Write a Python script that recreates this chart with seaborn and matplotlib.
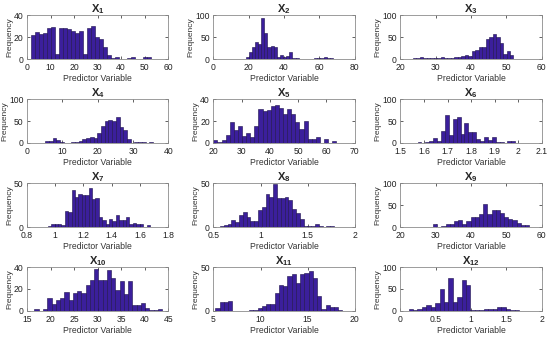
import matplotlib

matplotlib.use("Agg")
import matplotlib.pyplot as plt
import numpy as np
import pandas as pd
import seaborn as sns
from matplotlib.ticker import FormatStrFormatter


# bin counts, plus the data range each spans
X1_RANGE = (1.8, 52.6)
X1_COUNTS = [22, 25, 23, 24, 28, 29, 5, 28, 28, 27, 26, 24, 26, 5, 28,
             30, 20, 18, 11, 4, 1, 2, 0, 0, 1, 2, 0, 0, 2, 2]
X2_RANGE = (18.2, 71.2)
X2_COUNTS = [6, 17, 28, 40, 34, 93, 60, 27, 30, 28, 5, 10, 6, 8, 16,
             3, 2, 1, 0, 0, 0, 0, 2, 3, 3, 5, 3, 2, 1, 1]
X3_RANGE = (22.5, 52.0)
X3_COUNTS = [1, 3, 2, 5, 2, 2, 3, 2, 3, 5, 2, 2, 3, 5, 4,
             7, 10, 7, 18, 21, 28, 28, 46, 51, 58, 50, 37, 12, 18, 10]
X4_RANGE = (5.2, 36.7)
X4_COUNTS = [4, 4, 12, 6, 2, 0, 0, 3, 2, 4, 8, 12, 14, 12, 22,
             38, 50, 52, 51, 60, 36, 30, 8, 0, 2, 3, 2, 0, 2, 1]
X5_RANGE = (20.0, 63.5)
X5_COUNTS = [3, 1, 3, 7, 19, 12, 15, 6, 9, 5, 15, 31, 29, 30, 34,
             35, 32, 26, 31, 26, 19, 13, 20, 4, 4, 5, 0, 4, 0, 2]
X6_RANGE = (1.556, 2.054)
X6_COUNTS = [1, 2, 1, 3, 5, 12, 5, 28, 64, 18, 54, 60, 20, 45, 25,
             25, 8, 5, 14, 7, 14, 3, 3, 1, 4, 5, 1, 1, 1, 1]
X7_RANGE = (0.947, 1.67)
X7_COUNTS = [1, 3, 4, 4, 2, 18, 17, 42, 34, 38, 37, 36, 44, 32, 33,
             12, 8, 3, 9, 7, 14, 8, 8, 11, 3, 5, 4, 3, 0, 2]
X8_RANGE = (0.57, 1.78)
X8_COUNTS = [1, 2, 4, 8, 6, 14, 17, 12, 7, 7, 20, 23, 38, 34, 49,
             33, 33, 34, 31, 21, 16, 9, 1, 1, 1, 3, 1, 0, 1, 1]
X9_RANGE = (23.3, 58.8)
X9_COUNTS = [1, 1, 1, 0, 0, 6, 1, 2, 7, 8, 15, 16, 8, 14, 23,
             22, 30, 52, 30, 40, 40, 32, 22, 19, 16, 10, 4, 5, 1, 1]
X10_RANGE = (16.6, 43.7)
X10_COUNTS = [2, 0, 2, 12, 6, 10, 12, 17, 10, 16, 18, 16, 24, 28, 38,
              28, 28, 37, 30, 19, 27, 15, 27, 5, 5, 7, 3, 1, 1, 2]
X11_RANGE = (5.2, 18.7)
X11_COUNTS = [3, 10, 10, 11, 0, 0, 0, 0, 1, 1, 3, 6, 8, 8, 20,
              29, 28, 40, 42, 32, 42, 43, 46, 37, 17, 2, 7, 5, 5, 1]
X12_RANGE = (0.117, 1.99)
X12_COUNTS = [4, 2, 4, 8, 13, 10, 18, 50, 20, 75, 20, 32, 70, 58, 2,
              2, 3, 4, 4, 5, 9, 8, 5, 2, 2, 0, 1, 1, 0, 1]

PANELS = [
    ("1", X1_RANGE, X1_COUNTS),
    ("2", X2_RANGE, X2_COUNTS),
    ("3", X3_RANGE, X3_COUNTS),
    ("4", X4_RANGE, X4_COUNTS),
    ("5", X5_RANGE, X5_COUNTS),
    ("6", X6_RANGE, X6_COUNTS),
    ("7", X7_RANGE, X7_COUNTS),
    ("8", X8_RANGE, X8_COUNTS),
    ("9", X9_RANGE, X9_COUNTS),
    ("10", X10_RANGE, X10_COUNTS),
    ("11", X11_RANGE, X11_COUNTS),
    ("12", X12_RANGE, X12_COUNTS),
]

# axis limits / ticks per panel: (xmin, xmax, xstep, ymax, ystep)
AXES_SPEC = [
    (0, 60, 10, 40, 20),
    (0, 80, 20, 100, 50),
    (20, 60, 10, 100, 50),
    (0, 40, 10, 100, 50),
    (20, 70, 10, 40, 20),
    (1.5, 2.1, 0.1, 100, 50),
    (0.8, 1.8, 0.2, 50, 50),
    (0.5, 2.0, 0.5, 50, 50),
    (20, 60, 10, 100, 50),
    (15, 45, 5, 40, 20),
    (5, 20, 5, 50, 50),
    (0, 2, 0.5, 100, 50),
]

BAR_COLOR = "#3b1f9c"
EDGE_COLOR = "#1c0f4a"
FRAME_COLOR = "#8c8c8c"

sns.set_theme(style="white")
plt.rcParams["font.family"] = ["Liberation Sans", "DejaVu Sans"]
plt.rcParams["mathtext.fontset"] = "custom"
plt.rcParams["mathtext.rm"] = "Liberation Sans"
plt.rcParams["mathtext.bf"] = "Liberation Sans:bold"

fig = plt.figure(figsize=(5.5, 3.38), dpi=100)

lefts = [0.049, 0.388, 0.728]
bottoms = [0.825, 0.577, 0.328, 0.080]
width, height = 0.257, 0.130

for i, ((name, (lo, hi), counts), spec) in enumerate(zip(PANELS, AXES_SPEC)):
    row, col = divmod(i, 3)
    ax = fig.add_axes([lefts[col], bottoms[row], width, height])
    edges = np.linspace(lo, hi, len(counts) + 1)
    df = pd.DataFrame({"value": (edges[:-1] + edges[1:]) / 2, "count": counts})
    sns.histplot(data=df, x="value", weights="count", bins=list(edges), ax=ax,
                 color=BAR_COLOR, edgecolor=EDGE_COLOR, linewidth=0.4, alpha=1.0)

    xmin, xmax, xstep, ymax, ystep = spec
    ax.set_xlim(xmin, xmax)
    ax.set_ylim(0, ymax)
    ax.set_xticks(np.arange(xmin, xmax + xstep / 2, xstep))
    ax.set_yticks(np.arange(0, ymax + ystep / 2, ystep))
    ax.xaxis.set_major_formatter(FormatStrFormatter("%g"))
    ax.yaxis.set_major_formatter(FormatStrFormatter("%g"))
    ax.tick_params(direction="in", length=2, width=0.5, labelsize=6.2,
                   colors="#222222", top=True, right=True,
                   bottom=True, left=True)
    ax.tick_params(axis="x", pad=3)
    ax.tick_params(axis="y", pad=2.5)
    for spine in ax.spines.values():
        spine.set_color(FRAME_COLOR)
        spine.set_linewidth(0.6)

    ax.set_title(rf"$\mathbf{{X_{{{name}}}}}$", fontsize=8, pad=2)
    ax.set_xlabel("Predictor Variable", fontsize=6.2, labelpad=1, color="#333333")
    ax.set_ylabel("Frequency", fontsize=6, labelpad=0.5, color="#333333")

fig.savefig("out.png", dpi=100)
